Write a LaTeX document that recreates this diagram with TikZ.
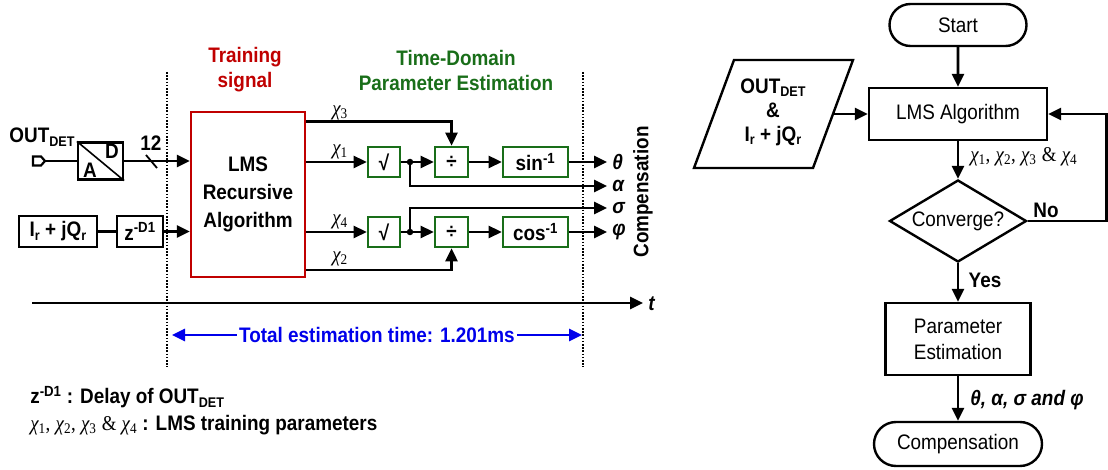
\documentclass[tikz,border=0pt]{standalone}
\usepackage[no-math]{fontspec}
\setmainfont[FakeStretch=0.9]{Liberation Sans}
\newfontfamily\serif[FakeStretch=0.9]{Liberation Serif}
\usetikzlibrary{arrows.meta,shapes.geometric,shapes.misc,calc}
\definecolor{tred}{RGB}{192,0,0}
\definecolor{tgreen}{RGB}{25,110,25}
\definecolor{tblue}{RGB}{0,0,235}
\newcommand{\chx}[1]{{\serif\itshape χ}\textsubscript{\serif #1}}
\newcommand{\sub}[1]{\raisebox{-0.18em}{\fontsize{14}{16}\selectfont #1}}
\begin{document}
\begin{tikzpicture}[x=1pt,y=-1pt,
  font=\fontsize{21}{25}\selectfont,
  line width=2.6pt,
  >={Triangle[length=13pt,width=12pt]},
  bf/.style={font=\fontsize{21}{25}\selectfont\bfseries},
  blk/.style={draw,line width=2.2pt,inner sep=0pt},
  gbox/.style={draw=tgreen,line width=2.6pt,minimum height=30pt,inner sep=0pt,font=\fontsize{21}{25}\selectfont\bfseries},
  dotl/.style={line width=1.4pt,dash pattern=on 1.6pt off 1.6pt},
  fl/.style={draw,line width=2.4pt,inner sep=0pt,align=center},
  jdot/.style={circle,fill,inner sep=0pt,minimum size=6.5pt},
  lab/.style={font=\fontsize{21}{25}\selectfont\bfseries\itshape,anchor=west,inner xsep=4pt,inner ysep=0pt},
  chl/.style={anchor=south,inner sep=0pt},
]
\useasboundingbox (0,0) rectangle (1108,470);

% ---------- titles ----------
\node[bf,text=tred,align=center] (ttrain) at (245,70) {Training\\signal};
\node[bf,text=tgreen,align=center] (ttime) at (456,70) {Time-Domain\\Parameter Estimation};

% ---------- dotted time marks ----------
\coordinate (d1t) at (167,72); \coordinate (d1b) at (167,367);
\coordinate (d2t) at (583,72); \coordinate (d2b) at (583,367);
\draw[dotl] (d1t) -- (d1b);
\draw[dotl] (d2t) -- (d2b);

% ---------- inputs ----------
\node[bf] (outl) at (42,137) {OUT\sub{DET}};
\draw[line width=2.2pt] (33,156.5) -- (41,156.5) -- (45,161) -- (41,165.5) -- (33,165.5) -- cycle;
\coordinate (port) at (45,161);
\node[blk,minimum width=45pt,minimum height=37pt] (ad) at (100.5,161) {};
\draw[line width=1.6pt] (ad.north west) -- (ad.south east);
\node[bf] (adA) at (90,170) {A};
\node[bf] (adD) at (112,151) {D};
\draw (port) -- (ad.west);

\node[draw=tred,line width=2.4pt,minimum width=114pt,minimum height=165pt,inner sep=0pt,align=center,font=\fontsize{21}{28}\selectfont\bfseries] (lms) at (248,194.5) {LMS\\Recursive\\Algorithm};

\draw[->] (ad.east) -- (ad.east -| lms.west);
\draw[line width=1.8pt] (146,155) -- (157,168);
\node[bf] (bus) at (151,143) {12};

\node[blk,bf,minimum width=78pt,minimum height=31pt] (ir) at (58,231.5) {I\sub{r} + jQ\sub{r}};
\node[blk,bf,minimum width=46pt,minimum height=31pt] (zd) at (140,231.5) {z\textsuperscript{-D1}};
\draw (ir) -- (zd);
\draw[->] (zd) -- (zd -| lms.west);

% ---------- estimation blocks ----------
\node[gbox,minimum width=32pt] (sq1) at (384,162) {√};
\node[gbox,minimum width=33pt] (dv1) at (451.5,162) {÷};
\node[gbox,minimum width=65pt] (sn) at (535.5,162) {sin\textsuperscript{-1}};
\node[gbox,minimum width=32pt] (sq2) at (384,232) {√};
\node[gbox,minimum width=33pt] (dv2) at (451.5,232) {÷};
\node[gbox,minimum width=65pt] (cs) at (535.5,232) {cos\textsuperscript{-1}};

\node[lab] (th) at (607,162) {θ};
\node[lab] (al) at (607,186) {α};
\node[lab] (sg) at (607,208) {σ};
\node[lab] (ph) at (607,232) {φ};

\node[jdot] (j1) at (410,162) {};
\node[jdot] (j2) at (410,232) {};

\draw[->] (sq1.east) -- (dv1.west);
\draw[->] (j1.center) |- (al.west);
\draw[->] (dv1) -- (sn);
\draw[->] (sn) -- (th.west);
\draw[->] (sq2.east) -- (dv2.west);
\draw[->] (j2.center) |- (sg.west);
\draw[->] (dv2) -- (cs);
\draw[->] (cs) -- (ph.west);

\coordinate (c3) at ($(lms.north east)+(0,11)$);
\draw[->] (c3) -| (dv1.north);
\node[chl] (x3) at (340,121) {\chx3};
\draw[->] (lms.east |- sq1) -- (sq1.west);
\node[chl] (x1) at (340,160) {\chx1};
\draw[->] (lms.east |- sq2) -- (sq2.west);
\node[chl] (x4) at (340,230) {\chx4};
\coordinate (c2) at ($(lms.south east)+(0,-8)$);
\draw[->] (c2) -| (dv2.south);
\node[chl] (x2) at (340,267) {\chx2};

\node[bf,rotate=90] (compl) at (643,192) {Compensation};

% ---------- time axis ----------
\node[lab] (tl) at (643,304) {t};
\coordinate (t0) at (32,303);
\draw[->] (t0) -- (t0 -| tl.west);

\coordinate (bL) at (172,335); \coordinate (bR) at (582,335);
\draw[tblue,<->] (bL) -- node[fill=white,text=tblue,bf,inner xsep=2pt,inner ysep=1pt] (tot) {Total estimation time: 1.201ms} (bR);

% ---------- legend ----------
\node[bf,anchor=west,inner sep=0pt] (lg1) at (29,397) {z\textsuperscript{-D1} : Delay of OUT\sub{DET}};
\node[anchor=west,inner sep=0pt] (lg2) at (29,425) {\chx1{\serif,} \chx2{\serif,} \chx3 {\serif\&} \chx4 \textbf{: LMS training parameters}};

% ---------- flowchart ----------
\node[fl,rounded rectangle,minimum width=137pt,minimum height=42pt] (st) at (958,25) {Start};
\node[fl,minimum width=178pt,minimum height=52pt] (alg) at (958,114) {LMS Algorithm};
\draw[->] (st) -- (alg);

\coordinate (p1) at (734,60); \coordinate (p2) at (853,60);
\coordinate (p3) at (813,168); \coordinate (p4) at (694,168);
\draw[line width=2.4pt] (p1) -- (p2) -- (p3) -- (p4) -- cycle;
\node[align=center,font=\fontsize{21}{24}\selectfont\bfseries] (inp) at (773,112) {OUT\sub{DET}\\\&\\I\sub{r} + jQ\sub{r}};
\coordinate (pin) at ($(p2)!0.5!(p3)$);
\draw[->] (pin) -- (alg.west);

\node[fl,diamond,aspect=1.67,minimum width=137pt,minimum height=82pt] (cv) at (958,221) {Converge?};
\draw[->] (alg) -- (cv);
\node[anchor=west,inner sep=0pt] (xl) at (969,157) {\chx1{\serif,} \chx2{\serif,} \chx3 {\serif\&} \chx4};
\node[bf] (no) at (1046,210) {No};
\draw[->] (cv.east) -- ++(79,0) |- (alg.east);

\node[fl,minimum width=145pt,minimum height=72pt,font=\fontsize{21}{26}\selectfont] (par) at (958,339) {Parameter\\Estimation};
\draw[->] (cv) -- (par);
\node[bf] (yes) at (985,280) {Yes};

\node[fl,rounded rectangle,minimum width=168pt,minimum height=44pt] (cmp) at (958,444) {Compensation};
\draw[->] (par) -- (cmp);
\node[font=\fontsize{21}{25}\selectfont\bfseries\itshape] (plab) at (1027,400) {θ, α, σ and φ};
\end{tikzpicture}
\end{document}
